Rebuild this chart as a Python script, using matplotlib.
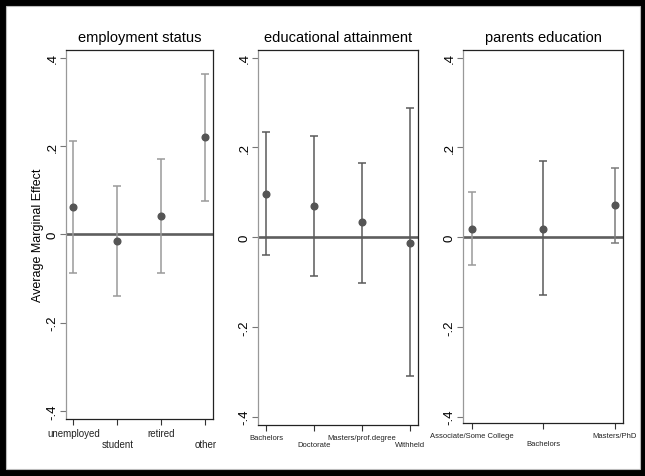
import matplotlib
matplotlib.use("Agg")
import matplotlib.pyplot as plt
from matplotlib.patches import Rectangle

plt.rcParams['font.family'] = ['Liberation Sans', 'DejaVu Sans']

# employment status
emp_labels = ["unemployed", "student", "retired", "other"]
emp_est = [0.063, -0.015, 0.041, 0.221]
emp_lo = [-0.087, -0.139, -0.088, 0.075]
emp_hi = [0.212, 0.109, 0.171, 0.363]

# educational attainment
edu_labels = ["Bachelors", "Doctorate", "Masters/prof.degree", "Withheld"]
edu_est = [0.097, 0.069, 0.033, -0.012]
edu_lo = [-0.040, -0.086, -0.101, -0.309]
edu_hi = [0.234, 0.225, 0.166, 0.287]

# parents education
par_labels = ["Associate/Some College", "Bachelors", "Masters/PhD"]
par_est = [0.019, 0.019, 0.071]
par_lo = [-0.062, -0.129, -0.012]
par_hi = [0.100, 0.170, 0.154]

W, H = 645, 477
fig = plt.figure(figsize=(W / 100, H / 100), dpi=100, facecolor='black')
fig.patches.append(Rectangle((6 / W, 7 / H), 634 / W, 463 / H, transform=fig.transFigure,
                             facecolor='white', edgecolor='#bbbbbb', lw=0.8, zorder=-10))


def box(left, right, top, bottom):
    return [left / W, 1 - bottom / H, (right - left) / W, (bottom - top) / H]


def panel(rect, title, labels, est, lo, hi, bar_colors, ylim, lab_size, ylabel=None):
    ax = fig.add_axes(rect)
    n = len(labels)
    xs = list(range(1, n + 1))
    ax.axhline(0, color='#5e5e5e', lw=1.9, zorder=1)
    for x, e, l, h, c in zip(xs, est, lo, hi, bar_colors):
        ax.errorbar([x], [e], yerr=[[e - l], [h - e]], fmt='none', ecolor=c,
                    elinewidth=1.1, capsize=2.6, capthick=1.1, zorder=2)
    ax.plot(xs, est, 'o', color='#555555', markersize=4.8, zorder=3)
    marg = 1 / 6 if n == 4 else 0.116
    ax.set_xlim(1 - marg, n + marg)
    ax.set_ylim(*ylim)
    ax.set_yticks([-0.4, -0.2, 0, 0.2, 0.4])
    ax.set_yticklabels(["-.4", "-.2", "0", ".2", ".4"], rotation=90, va='center', fontsize=9.5)
    ax.set_xticks(xs)
    ax.set_xticklabels([t if i % 2 == 0 else "\n" + t for i, t in enumerate(labels)],
                       fontsize=lab_size, color='#222222', linespacing=1.1)
    ax.tick_params(axis='y', length=4, width=0.8, color='#777777', pad=1.5)
    ax.tick_params(axis='x', length=4.5, width=0.8, color='#333333', pad=2)
    for s in ['top', 'right', 'bottom']:
        ax.spines[s].set_color('#222222')
        ax.spines[s].set_linewidth(0.9)
    ax.spines['left'].set_color('#999999')
    ax.spines['left'].set_linewidth(0.9)
    ax.set_title(title, fontsize=10.5, pad=6)
    if ylabel:
        ax.set_ylabel(ylabel, fontsize=9, labelpad=2)
    return ax


light = '#9a9a9a'
dark = '#5a5a5a'
mid = '#7a7a7a'

panel(box(66, 212.7, 50.7, 420), "employment status", emp_labels, emp_est, emp_lo, emp_hi,
      [light] * 4, (-0.418, 0.418), 7, ylabel="Average Marginal Effect")
panel(box(258.3, 417.7, 50.7, 425.7), "educational attainment", edu_labels, edu_est, edu_lo, edu_hi,
      [dark] * 4, (-0.418, 0.418), 5.5)
panel(box(463.3, 623.3, 50.7, 424.3), "parents education", par_labels, par_est, par_lo, par_hi,
      [light, dark, mid], (-0.415, 0.418), 5.5)

fig.savefig("out.png", dpi=100, facecolor='black')
